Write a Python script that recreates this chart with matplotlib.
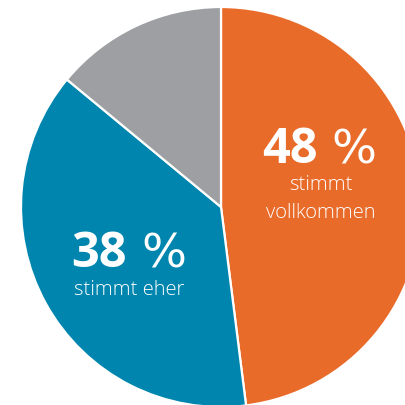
import matplotlib
matplotlib.use("Agg")
import matplotlib.pyplot as plt

categories = ["stimmt vollkommen", "stimmt eher", "andere"]
values = [48, 38, 14]
pct_numbers = ["48", "38"]
pct_sign = "%"
sub_labels = [["stimmt", "vollkommen"], ["stimmt eher"]]
colors = ["#E96B2A", "#0086AE", "#9D9FA2"]

W = H = 405
fig = plt.figure(figsize=(W / 100, H / 100), dpi=100)
cx, cy, r = 221, 207, 200
ax = fig.add_axes([(cx - r) / W, (H - cy - r) / H, 2 * r / W, 2 * r / H])
ax.pie(values, colors=colors, startangle=90, counterclock=False, radius=1,
       wedgeprops=dict(edgecolor="white", linewidth=1.6))
ax.set_xlim(-1, 1)
ax.set_ylim(-1, 1)
ax.set_aspect("equal")
ax.axis("off")

def px(x, y):
    return x / W, (H - y) / H

fam = ["Open Sans", "DejaVu Sans"]
big = 35
small = 14.5

# 48 %
fig.text(*px(318, 163), pct_numbers[0], ha="right", va="baseline", color="white",
         fontsize=big, fontweight="bold", family=fam)
fig.text(*px(331, 163), pct_sign, ha="left", va="baseline", color="white",
         fontsize=34, fontweight="normal", family=["DejaVu Sans"])
fig.text(*px(320.5, 190), sub_labels[0][0], ha="center", va="baseline", color="white",
         fontsize=small, fontweight="light", family=fam)
fig.text(*px(320.5, 218), sub_labels[0][1], ha="center", va="baseline", color="white",
         fontsize=small, fontweight="light", family=fam)

# 38 %
fig.text(*px(127, 267), pct_numbers[1], ha="right", va="baseline", color="white",
         fontsize=big, fontweight="bold", family=fam)
fig.text(*px(141, 267), pct_sign, ha="left", va="baseline", color="white",
         fontsize=34, fontweight="normal", family=["DejaVu Sans"])
fig.text(*px(129.5, 295), sub_labels[1][0], ha="center", va="baseline", color="white",
         fontsize=small, fontweight="light", family=fam)

fig.savefig("out.png", dpi=100, facecolor="white")
